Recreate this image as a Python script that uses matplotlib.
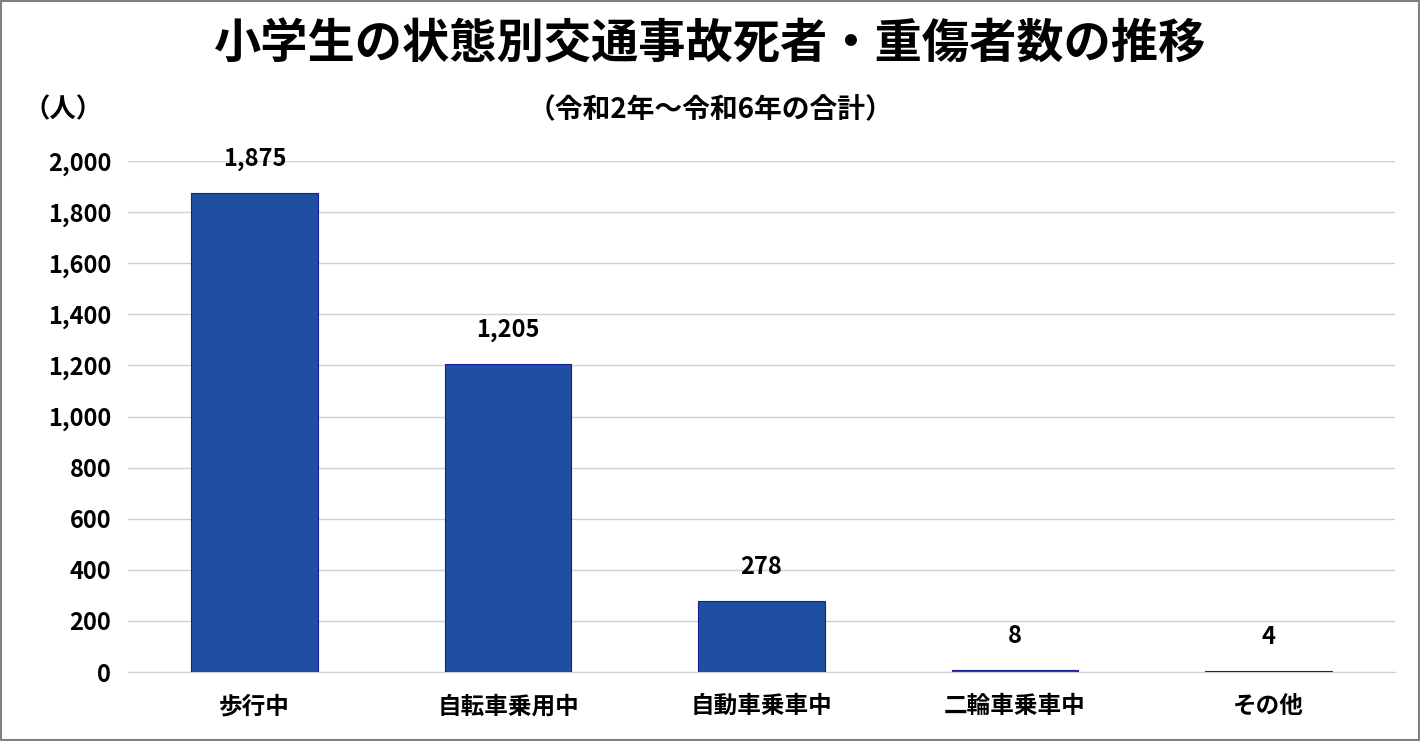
import matplotlib
matplotlib.use("Agg")
import matplotlib.pyplot as plt
from matplotlib.patches import Rectangle

plt.rcParams['font.family'] = ['Noto Sans CJK JP', 'DejaVu Sans']

categories = ["歩行中", "自転車乗用中", "自動車乗車中", "二輪車乗車中", "その他"]
values = [1875, 1205, 278, 8, 4]
yticks = [0, 200, 400, 600, 800, 1000, 1200, 1400, 1600, 1800, 2000]

fig = plt.figure(figsize=(14.2, 7.41), dpi=100)
ax = fig.add_axes([128/1420, 1-672/741, (1395-128)/1420, (672-161)/741])
x = range(len(categories))
ax.bar(x, values, width=0.5, color="#1F4FA0", edgecolor="#1A1AA0", linewidth=0.8, zorder=3)
for xi, v in zip(x, values):
    ax.annotate(f"{v:,}", (xi, v), xytext=(0, 16), textcoords="offset points",
                ha="center", va="bottom", fontsize=17, fontweight="bold")
ax.set_ylim(0, 2000)
ax.set_xlim(-0.5, len(categories) - 0.5)
ax.set_yticks(yticks)
ax.set_yticklabels([f"{t:,}" for t in yticks], fontsize=17, fontweight="bold")
ax.set_xticks(list(x))
ax.set_xticklabels(categories, fontsize=17, fontweight="bold")
ax.grid(axis="y", color="#D0D0D0", linewidth=1, zorder=0)
for s in ["top", "right", "left"]:
    ax.spines[s].set_visible(False)
ax.spines["bottom"].set_color("#D0D0D0")
ax.tick_params(length=0, pad=12)
ax.tick_params(axis="x", pad=16)

fig.text(0.5, 1-45/741, "小学生の状態別交通事故死者・重傷者数の推移", ha="center", va="center",
         fontsize=34, fontweight="bold")
fig.text(0.5, 1-110/741, "（令和2年～令和6年の合計）", ha="center", va="center",
         fontsize=20, fontweight="bold")
fig.text(63/1420, 1-110/741, "（人）", ha="center", va="center", fontsize=19, fontweight="bold")
fig.patches.append(Rectangle((0.001, 0.001), 0.998, 0.998, transform=fig.transFigure,
                             fill=False, edgecolor="#808080", linewidth=1.5))
fig.savefig("out.png", dpi=100)
